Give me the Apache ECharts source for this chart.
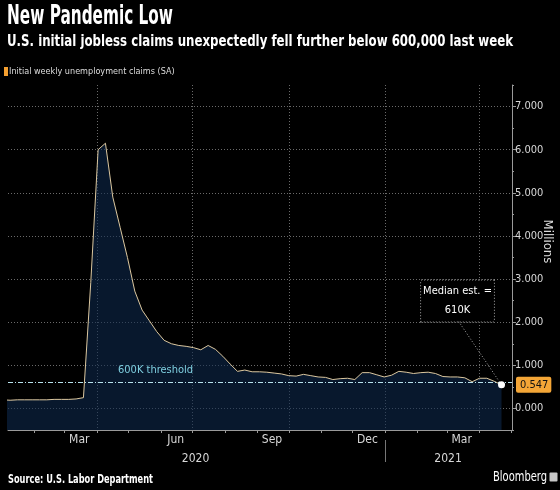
<!DOCTYPE html>
<html><head><meta charset="utf-8">
<script src="https://cdn.jsdelivr.net/npm/echarts@6/dist/echarts.min.js"></script>
<style>html,body{margin:0;padding:0;background:#000;}#c{width:560px;height:490px;}</style>
</head><body><div id="c"></div>
<script>
// ---- data ----
const weekDates = [
 '2020-01-02','2020-01-09','2020-01-16','2020-01-23','2020-01-30',
 '2020-02-06','2020-02-13','2020-02-20','2020-02-27',
 '2020-03-05','2020-03-12','2020-03-19','2020-03-26',
 '2020-04-02','2020-04-09','2020-04-16','2020-04-23','2020-04-30',
 '2020-05-07','2020-05-14','2020-05-21','2020-05-28',
 '2020-06-04','2020-06-11','2020-06-18','2020-06-25',
 '2020-07-02','2020-07-09','2020-07-16','2020-07-23','2020-07-30',
 '2020-08-06','2020-08-13','2020-08-20','2020-08-27',
 '2020-09-03','2020-09-10','2020-09-17','2020-09-24',
 '2020-10-01','2020-10-08','2020-10-15','2020-10-22','2020-10-29',
 '2020-11-05','2020-11-12','2020-11-19','2020-11-26',
 '2020-12-03','2020-12-10','2020-12-17','2020-12-24','2020-12-31',
 '2021-01-07','2021-01-14','2021-01-21','2021-01-28',
 '2021-02-04','2021-02-11','2021-02-18','2021-02-25',
 '2021-03-04','2021-03-11','2021-03-18','2021-03-25',
 '2021-04-01','2021-04-08','2021-04-15','2021-04-22'
];
const claims = [
 0.20,0.19,0.20,0.20,0.20,
 0.20,0.20,0.21,0.21,
 0.21,0.22,0.25,2.92,
 6.00,6.15,4.90,4.20,3.50,
 2.72,2.28,2.03,1.78,
 1.58,1.50,1.46,1.44,
 1.41,1.36,1.46,1.37,1.21,
 1.03,0.86,0.89,0.85,
 0.85,0.84,0.82,0.80,
 0.76,0.75,0.79,0.76,0.73,
 0.72,0.67,0.69,0.70,
 0.67,0.83,0.83,0.78,0.73,
 0.77,0.86,0.84,0.81,
 0.83,0.84,0.81,0.74,
 0.73,0.73,0.71,0.62,
 0.70,0.70,0.63,0.547
];
const yTickValues = [0,1,2,3,4,5,6,7];
const yMinorTickValues = [-0.5,0.5,1.5,2.5,3.5,4.5,5.5,6.5,7.5];
const monthTicks = ['2020-02-01','2020-03-01','2020-04-01','2020-05-01','2020-06-01','2020-07-01',
 '2020-08-01','2020-09-01','2020-10-01','2020-11-01','2020-12-01','2021-01-01','2021-02-01',
 '2021-03-01','2021-04-01','2021-05-01'];
const monthLabelDates = ['2020-03-15','2020-06-15','2020-09-15','2020-12-15','2021-03-15'];
const monthNames = ['Jan','Feb','Mar','Apr','May','Jun','Jul','Aug','Sep','Oct','Nov','Dec'];
const quarterLines = ['2020-04-01','2020-07-01','2020-10-01','2021-01-01','2021-04-01'];
const yearLabelDates = ['2020-07-04','2021-03-02'];
const yearBreaks = ['2021-01-01'];
const xRange = ['2020-01-07','2021-05-02'];
const yRange = [-0.5, 7.5];
const thresholdValue = 0.6;
const thresholdText = '600K threshold';
const medianText = 'Median est. =\n610K';
const annotationAnchor = ['2021-03-11', 2.49];
const annotationLineStart = ['2021-03-12', 2.02];
const seriesName = 'Initial weekly unemployment claims (SA)';
const titleText = 'New Pandemic Low';
const subtitleText = 'U.S. initial jobless claims unexpectedly fell further below 600,000 last week';
const sourceText = 'Source: U.S. Labor Department';
const brandText = 'Bloomberg';

const FONT = '"DejaVu Sans Condensed","DejaVu Sans",sans-serif';
const ts = s => new Date(s + 'T00:00:00').getTime();
const lastDate = ts(weekDates[weekDates.length-1]);
const lastVal = claims[claims.length-1];
const seriesData = weekDates.map((d,i)=>[ts(d), claims[i]]);

// condensed-text helper: squeeze a text horizontally to a target width
const mctx = document.createElement('canvas').getContext('2d');
function squeezed(text, font, x, yMid, targetW, extra) {
  mctx.font = font;
  const w = mctx.measureText(text).width;
  return Object.assign({
    type:'text', x:x, y:yMid, scaleX: targetW / w, silent:true,
    style:{text:text, font:font, fill:'#fff', align:'left', verticalAlign:'middle'}
  }, extra || {});
}

const chart = echarts.init(document.getElementById('c'));
const axisGray = '#9a9a9a';
const gridGray = '#6a6a6a';
const xBase = () => ({type:'value', min:ts(xRange[0]), max:ts(xRange[1]), gridIndex:0, position:'bottom', scale:true});

chart.setOption({
  backgroundColor:'#000',
  animation:false,
  graphic:[
    squeezed(titleText, 'bold 26px "DejaVu Sans Condensed","DejaVu Sans",sans-serif', 7, 17.5, 166),
    squeezed(subtitleText, 'bold 16px "DejaVu Sans Condensed","DejaVu Sans",sans-serif', 7, 41.5, 506),
    squeezed(sourceText, 'bold 12px "DejaVu Sans Condensed","DejaVu Sans",sans-serif', 8, 480, 145),
    squeezed(brandText, '14px "DejaVu Sans Condensed","DejaVu Sans",sans-serif', 493, 477, 54),
    {type:'rect', silent:true, shape:{x:549.5, y:472.5, width:8, height:9, r:1}, style:{fill:'#c8c8c8'}}
  ],
  legend:{
    left:4, top:67, padding:0, itemWidth:4, itemHeight:9, icon:'rect',
    data:[{name:seriesName, itemStyle:{color:'#f5a030'}}],
    textStyle:{color:'#ddd', fontSize:9, fontFamily:FONT, padding:[0,0,0,-4]}
  },
  grid:{left:8, right:48, top:85, bottom:60, containLabel:false, outerBoundsMode:'none'},
  xAxis:[
    Object.assign(xBase(), {
      axisLine:{show:true, onZero:false, lineStyle:{color:axisGray, width:1}},
      axisTick:{show:true, customValues:monthTicks.map(ts), length:3, lineStyle:{color:axisGray}},
      axisLabel:{customValues:monthLabelDates.map(ts), color:'#d8d8d8', fontSize:12, fontFamily:FONT, margin:4,
        formatter:v=>monthNames[new Date(v).getMonth()]},
      splitLine:{show:false}
    }),
    Object.assign(xBase(), {
      axisLine:{show:false, onZero:false},
      axisTick:{show:false, customValues:quarterLines.map(ts)},
      axisLabel:{show:false},
      splitLine:{show:true, lineStyle:{color:gridGray, type:[1,2], width:1}}
    }),
    Object.assign(xBase(), {
      offset:10,
      axisLine:{show:false, onZero:false},
      axisTick:{show:true, customValues:yearBreaks.map(ts), length:22, lineStyle:{color:'#777'}},
      axisLabel:{customValues:yearLabelDates.map(ts), color:'#d8d8d8', fontSize:12, fontFamily:FONT, margin:13,
        formatter:v=>String(new Date(v).getFullYear())},
      splitLine:{show:false}
    })
  ],
  yAxis:[
    {type:'value', position:'right', min:yRange[0], max:yRange[1],
     name:'Millions', nameLocation:'middle', nameRotate:-90, nameGap:29, nameMoveOverlap:false,
     nameTextStyle:{color:'#ddd', fontSize:13, fontFamily:FONT, padding:[0,32,0,0]},
     axisLine:{show:true, lineStyle:{color:axisGray}},
     axisTick:{show:true, customValues:yTickValues, length:4, lineStyle:{color:axisGray}},
     axisLabel:{customValues:yTickValues, color:'#d8d8d8', fontSize:11, fontFamily:FONT, margin:3,
       formatter:v=>v.toFixed(3)},
     splitLine:{show:true, lineStyle:{color:gridGray, type:[1,2], width:1}}
    },
    {type:'value', position:'right', min:yRange[0], max:yRange[1],
     axisLine:{show:false},
     axisTick:{show:true, customValues:yMinorTickValues, length:2, lineStyle:{color:axisGray}},
     axisLabel:{customValues:[lastVal], color:'#111', fontSize:11, fontFamily:FONT, margin:4,
       backgroundColor:'#f4a637', padding:[3,3,2,4], borderRadius:2,
       formatter:v=>v.toFixed(3)},
     splitLine:{show:false}
    }
  ],
  series:[{
    name:seriesName, type:'line', xAxisIndex:0, yAxisIndex:0,
    data:seriesData, showSymbol:false, symbol:'none',
    lineStyle:{color:'#dcc8a0', width:1},
    itemStyle:{color:'#f5a030'},
    areaStyle:{color:'rgba(14,42,78,0.82)', origin:'start'},
    markLine:{
      silent:true, symbol:['none','none'], animation:false,
      data:[
        {yAxis:thresholdValue,
         lineStyle:{color:'#b8e2ee', width:1, type:[5,2,1,2]},
         label:{show:true, position:'insideStartTop', formatter:thresholdText, color:'#7fcfe0',
                fontSize:11, fontFamily:FONT, distance:[110,7]}},
        [{coord:[ts(annotationLineStart[0]), annotationLineStart[1]], lineStyle:{color:'#aaa', width:1, type:[1,2], curveness:0.12}, label:{show:false}},
         {coord:[lastDate,lastVal]}]
      ]
    },
    markPoint:{
      silent:true, animation:false,
      data:[
        {coord:[lastDate,lastVal], symbol:'circle', symbolSize:7, itemStyle:{color:'#fff'}, label:{show:false}},
        {coord:[ts(annotationAnchor[0]), annotationAnchor[1]], symbol:'rect', symbolSize:[1,1], itemStyle:{color:'rgba(0,0,0,0)'},
         label:{show:true, position:'inside', formatter:medianText, color:'#fff', fontSize:11,
                fontFamily:FONT, lineHeight:19, align:'center', borderColor:'#aaa', borderWidth:1,
                borderType:[1,2], padding:[2,2,1,2], backgroundColor:'#000'}}
      ]
    }
  }]
});
</script></body></html>
